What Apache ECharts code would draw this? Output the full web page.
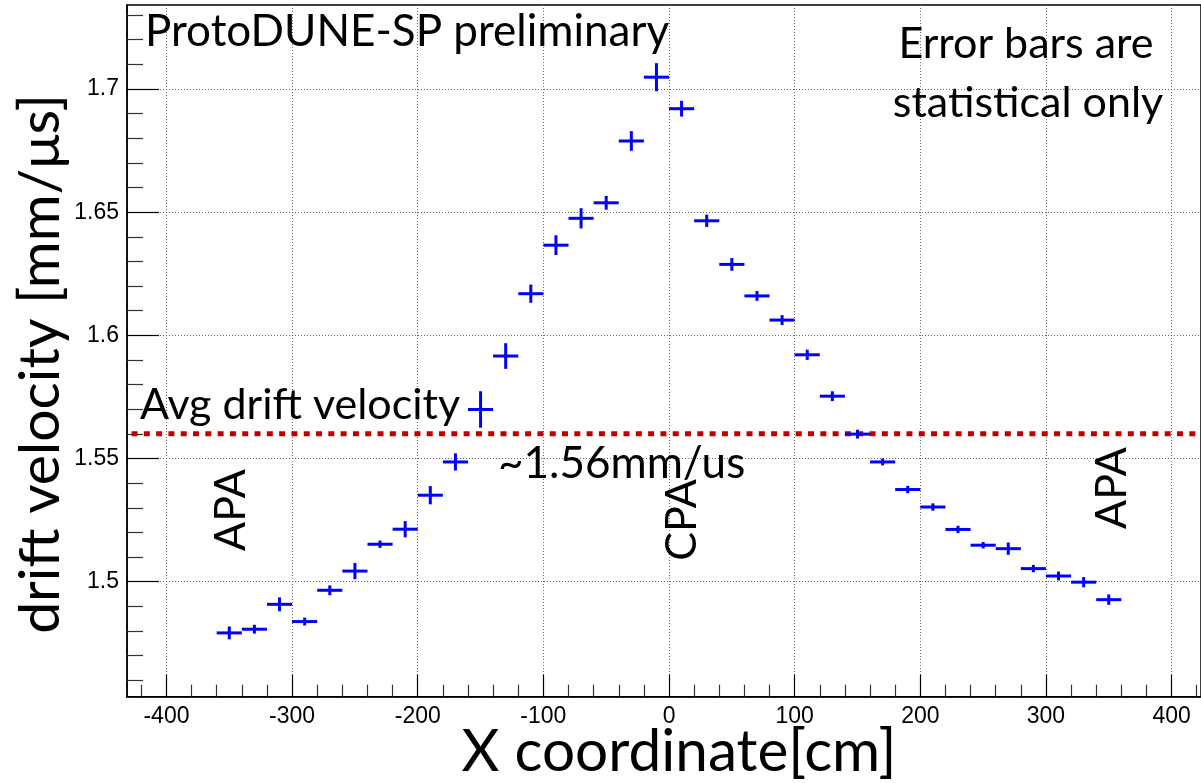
<!DOCTYPE html>
<html>
<head>
<meta charset="utf-8">
<script src="https://cdn.jsdelivr.net/npm/echarts/dist/echarts.min.js"></script>
<style>
  html, body { margin: 0; padding: 0; background: #ffffff; }
  #chart { width: 1201px; height: 783px; }
</style>
</head>
<body>
<div id="chart"></div>
<script>
// Drift position bin centres [cm]
const binCenters = [-350, -330, -310, -290, -270, -250, -230, -210, -190, -170, -150, -130,
  -110, -90, -70, -50, -30, -10, 10, 30, 50, 70, 90, 110,
  130, 150, 170, 190, 210, 230, 250, 270, 290, 310, 330, 350];
// Measured drift velocity per bin [mm/us]
const driftVelocity = [1.4792, 1.4807, 1.4908, 1.4838, 1.4965, 1.5043, 1.5152, 1.5213, 1.5351, 1.5486, 1.5699, 1.5916,
  1.6169, 1.6366, 1.6475, 1.6538, 1.6789, 1.7048, 1.6920, 1.6465, 1.6288, 1.6160, 1.6062, 1.5921,
  1.5753, 1.5599, 1.5486, 1.5374, 1.5303, 1.5212, 1.5148, 1.5134, 1.5053, 1.5023, 1.4998, 1.4927];
// Statistical uncertainty per bin [mm/us]
const statError = [0.0026, 0.0018, 0.0028, 0.0016, 0.0020, 0.0033, 0.0015, 0.0033, 0.0037, 0.0035, 0.0074, 0.0052,
  0.0037, 0.0040, 0.0041, 0.0028, 0.0040, 0.0057, 0.0032, 0.0025, 0.0026, 0.0020, 0.0020, 0.0021,
  0.0020, 0.0018, 0.0014, 0.0015, 0.0015, 0.0015, 0.0013, 0.0025, 0.0015, 0.0018, 0.0021, 0.0021];
// Bin width [cm]
const binWidth = 20;
// Average drift velocity [mm/us]
const avgVelocity = 1.56;

// Axis ticks
const xMajorTicks = [-400, -300, -200, -100, 0, 100, 200, 300, 400];
const yMajorTicks = [1.5, 1.55, 1.6, 1.65, 1.7];

// Axis ranges
const X_MIN = -431.4, X_MAX = 423.4;
const Y_MIN = 1.4533, Y_MAX = 1.7341;

const xMinorTicks = [];
for (let v = -420; v <= 420; v += 20) if (v % 100 !== 0) xMinorTicks.push(v);
const yMinorTicks = [];
for (let k = 146; k <= 173; k++) if (k % 5 !== 0) yMinorTicks.push(k / 100);

const AXIS_FONT = '"Liberation Sans", Arial, sans-serif';
const TEXT_FONT = 'Lato, "Open Sans", sans-serif';

const gridLine = { show: true, lineStyle: { color: '#666666', width: 1, type: [1, 2] } };

const chart = echarts.init(document.getElementById('chart'), null, { renderer: 'canvas' });

function label(text, x, y, size, align, rotation) {
  return {
    type: 'text', x: x, y: y, z: 50, rotation: rotation || 0,
    style: {
      text: text, fill: '#000000', font: size + 'px ' + TEXT_FONT,
      textAlign: align || 'left', textVerticalAlign: 'middle'
    }
  };
}

const option = {
  backgroundColor: '#ffffff',
  animation: false,
  grid: {
    left: 127, right: 0, top: 5, bottom: 86.3,
    show: true, borderColor: '#000000', borderWidth: 1.5, backgroundColor: 'transparent'
  },
  xAxis: [
    {
      type: 'value', min: X_MIN, max: X_MAX, position: 'bottom',
      axisLine: { show: true, onZero: false, lineStyle: { color: '#000000', width: 1.5 } },
      axisTick: { show: true, inside: true, length: 22, customValues: xMajorTicks, lineStyle: { color: '#000000', width: 1.2 } },
      axisLabel: {
        customValues: xMajorTicks, margin: 8, color: '#000000',
        fontFamily: AXIS_FONT, fontSize: 23,
        formatter: v => (v < 0 ? '-' + Math.abs(v) : String(v))
      },
      splitLine: gridLine
    },
    {
      type: 'value', min: X_MIN, max: X_MAX, position: 'bottom',
      axisLine: { show: false, onZero: false },
      axisTick: { show: true, inside: true, length: 12, customValues: xMinorTicks, lineStyle: { color: '#333333', width: 1.2 } },
      axisLabel: { show: false },
      splitLine: { show: false }
    }
  ],
  yAxis: [
    {
      type: 'value', min: Y_MIN, max: Y_MAX, position: 'left',
      axisLine: { show: true, onZero: false, lineStyle: { color: '#000000', width: 1.5 } },
      axisTick: { show: true, inside: true, length: 32, customValues: yMajorTicks, lineStyle: { color: '#000000', width: 1.2 } },
      axisLabel: {
        customValues: yMajorTicks, margin: 8, color: '#000000',
        fontFamily: AXIS_FONT, fontSize: 23,
        formatter: v => String(+v.toFixed(2))
      },
      splitLine: gridLine
    },
    {
      type: 'value', min: Y_MIN, max: Y_MAX, position: 'left',
      axisLine: { show: false, onZero: false },
      axisTick: { show: true, inside: true, length: 16, customValues: yMinorTicks, lineStyle: { color: '#333333', width: 1.2 } },
      axisLabel: { show: false },
      splitLine: { show: false }
    }
  ],
  series: [
    {
      name: 'avg',
      type: 'line',
      xAxisIndex: 0, yAxisIndex: 0,
      data: [[-427.8, avgVelocity], [X_MAX, avgVelocity]],
      symbol: 'none',
      lineStyle: { color: '#c00000', width: 5, type: [6, 6.3] },
      z: 3
    },
    {
      name: 'drift velocity',
      type: 'custom',
      xAxisIndex: 0, yAxisIndex: 0,
      encode: { x: 0, y: 1 },
      data: binCenters.map((x, i) => [x, driftVelocity[i], statError[i]]),
      renderItem: function (params, api) {
        const x = api.value(0), y = api.value(1), e = api.value(2);
        const half = binWidth / 2;
        const pL = api.coord([x - half, y]);
        const pR = api.coord([x + half, y]);
        const pT = api.coord([x, y + e]);
        const pB = api.coord([x, y - e]);
        const st = { stroke: '#0000ff', lineWidth: 3, lineCap: 'butt' };
        return {
          type: 'group',
          children: [
            { type: 'line', shape: { x1: pL[0], y1: pL[1], x2: pR[0], y2: pR[1] }, style: st },
            { type: 'line', shape: { x1: pT[0], y1: pT[1], x2: pB[0], y2: pB[1] }, style: st }
          ]
        };
      },
      z: 5
    }
  ],
  graphic: [
    label('ProtoDUNE-SP preliminary', 145, 32, 44),
    label('Error bars are', 1026, 44, 43, 'center'),
    label('statistical only', 1028, 103, 43, 'center'),
    label('Avg drift velocity', 140, 405, 43),
    label('~1.56mm/us', 498, 464, 44),
    label('APA', 231, 510, 43, 'center', Math.PI / 2),
    label('CPA', 682, 520, 43, 'center', Math.PI / 2),
    label('APA', 1112, 488, 43, 'center', Math.PI / 2),
    label('drift velocity [mm/\u03bcs]', 41, 364, 57, 'center', Math.PI / 2),
    label('X coordinate[cm]', 679, 752, 58.5, 'center')
  ]
};

chart.setOption(option);
</script>
</body>
</html>
